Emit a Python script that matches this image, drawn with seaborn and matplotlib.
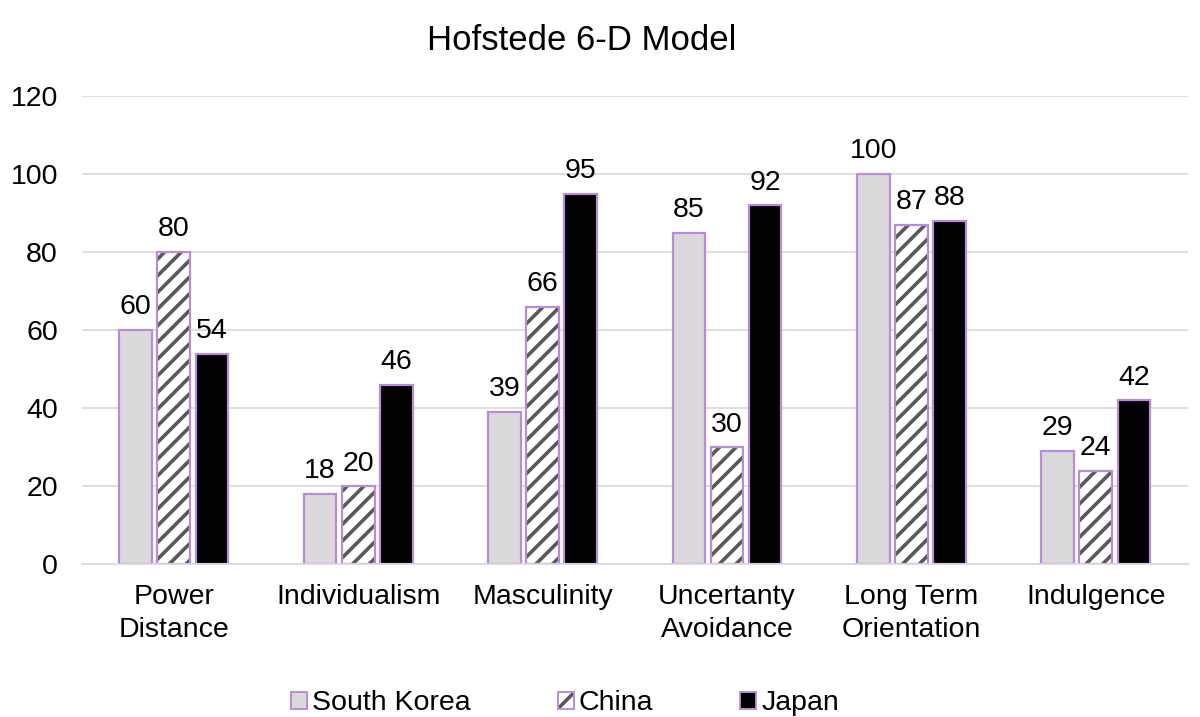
import matplotlib.pyplot as plt
import pandas as pd
import seaborn as sns
from matplotlib.colors import to_rgba

# values
dimensions = ["Power\nDistance", "Individualism", "Masculinity",
              "Uncertanty\nAvoidance", "Long Term\nOrientation", "Indulgence"]
countries = ["South Korea", "China", "Japan"]
south_korea = [60, 18, 39, 85, 100, 29]
china = [80, 20, 66, 30, 87, 24]
japan = [54, 46, 95, 92, 88, 42]

df = pd.DataFrame({
    "dimension": dimensions * 3,
    "country": [c for c in countries for _ in dimensions],
    "score": south_korea + china + japan,
})

sns.set_style("white")
plt.rcParams["font.family"] = ["Liberation Sans", "DejaVu Sans"]
plt.rcParams["text.color"] = "black"
plt.rcParams["xtick.color"] = "black"
plt.rcParams["ytick.color"] = "black"
plt.rcParams["hatch.linewidth"] = 2.6

edge = "#b48fd6"
fills = {"South Korea": "#dcd8dc", "China": "white", "Japan": "black"}
fs = 20.5

fig = plt.figure(figsize=(12, 7.17), dpi=100)
ax = fig.add_axes([0.068, 0.213, 0.922, 0.653])

sns.barplot(data=df, x="dimension", y="score", hue="country",
            palette=fills, width=0.62, gap=0.14, edgecolor=edge,
            linewidth=1.6, ax=ax, legend=False)

# China bars: grey hatch, purple border
for cont, name in zip(ax.containers, countries):
    for p in cont:
        p.set_edgecolor(edge)
        if name == "China":
            p.set_hatch("//")
            p._hatch_color = to_rgba("#595959")
    ax.bar_label(cont, padding=7, fontsize=fs, color="black")

ax.set_ylim(0, 120)
ax.set_yticks(range(0, 121, 20))
ax.grid(axis="y", color="#d9d9d9", linewidth=1.2)
ax.set_axisbelow(True)
for s in ["top", "right", "left"]:
    ax.spines[s].set_visible(False)
ax.spines["bottom"].set_color("#d9d9d9")
ax.spines["bottom"].set_linewidth(1.2)
ax.tick_params(axis="x", length=0, labelsize=fs, pad=14)
ax.tick_params(axis="y", length=0, labelsize=fs, pad=17)
for lbl in ax.get_xticklabels():
    lbl.set_linespacing(1.35)
ax.set_xlabel("")
ax.set_ylabel("")
ax.set_xlim(-0.5, 5.5)

fig.suptitle("Hofstede 6-D Model", fontsize=25, x=0.485, y=0.966)

# legend with small square handles
handles = []
for name in countries:
    h = plt.Rectangle((0, 0), 1, 1, facecolor=fills[name], edgecolor=edge,
                      linewidth=1.4, hatch="//" if name == "China" else None)
    if name == "China":
        h._hatch_color = to_rgba("#595959")
    handles.append(h)
fig.legend(handles, countries, loc="lower center", ncol=3, frameon=False,
           fontsize=fs, bbox_to_anchor=(0.471, -0.035), handlelength=0.56,
           handleheight=0.56, handletextpad=0.18, columnspacing=3.05)

fig.savefig("out.png", dpi=100)
